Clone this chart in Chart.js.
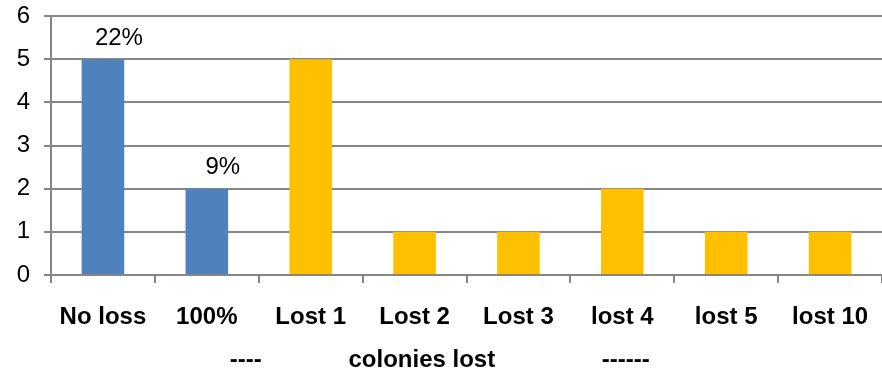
<!DOCTYPE html>
<html>
<head>
<meta charset="utf-8">
<script src="https://cdn.jsdelivr.net/npm/chart.js@4"></script>
<style>
  html, body { margin: 0; padding: 0; background: #fff; }
  #wrap { width: 882px; height: 375px; }
</style>
</head>
<body>
<div id="wrap"><canvas id="myChart"></canvas></div>
<script>
// categories and counts
const categories = ["No loss", "100%", "Lost 1", "Lost 2", "Lost 3", "lost 4", "lost 5", "lost 10"];
const counts = [5, 2, 5, 1, 1, 2, 1, 1];
// percentage labels shown above the first two bars
const pctLabels = ["22%", "9%", "", "", "", "", "", ""];
const yTicks = [0, 1, 2, 3, 4, 5, 6];
const axisTitle = "----             colonies lost                ------        ";

const blue = "#4F81BD";
const gold = "#FFC000";
const gridColor = "#868686";
const fontFamily = "'Liberation Sans', Arial, sans-serif";

// percent labels drawn just above the bars
const pctPlugin = {
  id: "pctPlugin",
  afterDatasetsDraw(chart) {
    const ctx = chart.ctx;
    const meta = chart.getDatasetMeta(0);
    ctx.save();
    ctx.font = "24px " + fontFamily;
    ctx.fillStyle = "#000";
    ctx.textAlign = "center";
    ctx.textBaseline = "bottom";
    meta.data.forEach((bar, i) => {
      if (!pctLabels[i]) return;
      ctx.fillText(pctLabels[i], bar.x + 16, bar.y - 9);
    });
    ctx.restore();
  }
};

const ctx = document.getElementById("myChart").getContext("2d");
new Chart(ctx, {
  type: "bar",
  data: {
    labels: categories,
    datasets: [
      {
        data: counts,
        backgroundColor: counts.map((v, i) => (i < 2 ? blue : gold)),
        categoryPercentage: 1,
        barPercentage: 0.41,
      },
    ],
  },
  options: {
    responsive: true,
    maintainAspectRatio: false,
    animation: false,
    layout: { padding: { top: 16, right: 0, left: 0, bottom: 0 } },
    plugins: {
      legend: { display: false },
      tooltip: { enabled: false },
    },
    scales: {
      x: {
        afterFit(scale) {
          scale.height = 100;
          scale.paddingLeft = 0;
          scale.paddingRight = 0;
        },
        grid: {
          drawOnChartArea: false,
          color: gridColor,
          tickLength: 8,
          lineWidth: 2,
        },
        border: { color: gridColor, width: 2 },
        ticks: {
          color: "#000",
          font: { family: fontFamily, size: 24, weight: "bold" },
          padding: 20,
          maxRotation: 0,
          autoSkip: false,
        },
        title: {
          display: true,
          text: axisTitle,
          color: "#000",
          font: { family: fontFamily, size: 24, weight: "bold" },
          padding: { top: 0, bottom: 0 },
        },
      },
      y: {
        min: 0,
        max: 6,
        afterBuildTicks(scale) {
          scale.ticks = yTicks.map((v) => ({ value: v }));
        },
        afterFit(scale) {
          scale.width = 51;
          scale.paddingTop = 0;
          scale.paddingBottom = 0;
        },
        grid: {
          color: gridColor,
          lineWidth: 2,
          tickLength: 7,
        },
        border: { color: gridColor, width: 2 },
        ticks: {
          color: "#000",
          font: { family: fontFamily, size: 24 },
          padding: 14,
        },
      },
    },
  },
  plugins: [pctPlugin],
});
</script>
</body>
</html>
